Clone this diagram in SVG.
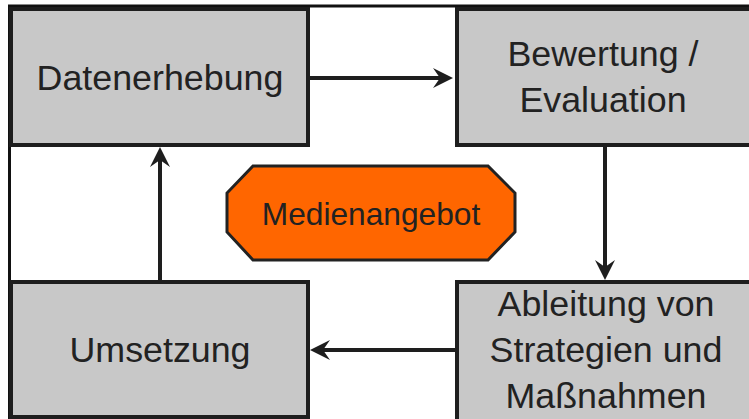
<svg xmlns="http://www.w3.org/2000/svg" width="749" height="419" viewBox="0 0 749 419">
  <defs>
    <marker id="arr" markerUnits="userSpaceOnUse" markerWidth="20" markerHeight="20" viewBox="0 0 20 20" refX="7" refY="10" orient="auto">
      <path d="M0,0 L20,10 L0,20 L7,10 z" fill="#1e1e1e"/>
    </marker>
    <style>
      .box { fill: #c8c8c8; stroke: #1e1e1e; stroke-width: 4; }
      .lbl { font-family: "Liberation Sans", Arial, sans-serif; font-size: 35.8px; fill: #222; text-anchor: middle; }
      .conn { stroke: #1e1e1e; stroke-width: 4; fill: none; marker-end: url(#arr); }
      .frame { stroke: #111; stroke-width: 3; fill: none; }
    </style>
  </defs>
  <rect width="749" height="419" fill="#fff"/>
  <g id="frame">
    <path class="frame" d="M9.5,419 L9.5,6 L749,6"/>
  </g>
  <g id="connectors">
    <path class="conn" d="M310,78 L440,78"/>
    <path class="conn" d="M605,147 L605,267"/>
    <path class="conn" d="M455,350 L323,350"/>
    <path class="conn" d="M160,280 L160,160"/>
  </g>
  <g id="datenerhebung">
    <rect class="box" x="11" y="9" width="297" height="136"/>
    <text class="lbl" x="160" y="90">Datenerhebung</text>
  </g>
  <g id="bewertung">
    <rect class="box" x="457" y="9" width="300" height="136"/>
    <text class="lbl" x="603" y="66">Bewertung /</text>
    <text class="lbl" x="603" y="112">Evaluation</text>
  </g>
  <g id="ableitung">
    <rect class="box" x="457" y="282" width="300" height="150"/>
    <text class="lbl" x="606" y="316">Ableitung von</text>
    <text class="lbl" x="606" y="362">Strategien und</text>
    <text class="lbl" x="606" y="408">Maßnahmen</text>
  </g>
  <g id="umsetzung">
    <rect class="box" x="11" y="282" width="297" height="135"/>
    <text class="lbl" x="160" y="362">Umsetzung</text>
  </g>
  <g id="medienangebot">
    <polygon points="253,166 488,166 515,193 515,232 488,260 253,260 227,232 227,193" fill="#ff6600" stroke="#222" stroke-width="3"/>
    <text class="lbl" x="371" y="225" style="font-size:31.7px">Medienangebot</text>
  </g>
</svg>
